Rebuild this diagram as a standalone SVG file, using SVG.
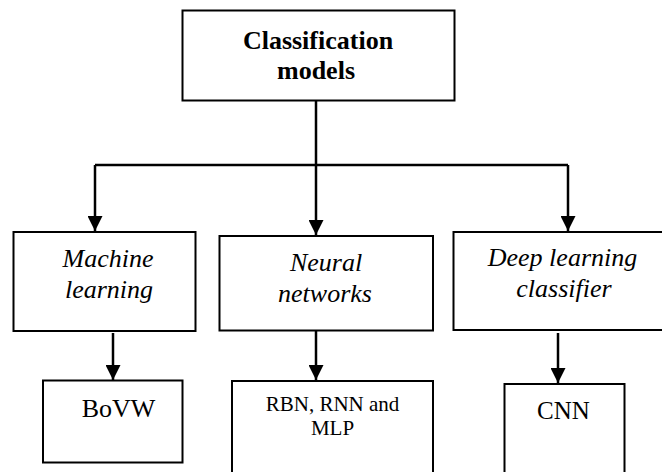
<svg xmlns="http://www.w3.org/2000/svg" width="662" height="472" viewBox="0 0 662 472">
<style>
.box{fill:#fff;stroke:#000;stroke-width:2}
.t{font-family:'Liberation Serif','Times New Roman',serif;fill:#000;text-anchor:middle}
.b{font-weight:bold;font-size:26px}
.i{font-style:italic;font-size:26px}
.r{font-size:26px}
.s{font-size:21px}
.c{stroke:#000;stroke-width:2.5;fill:none}
.a{stroke:#000;stroke-width:2.5;fill:none;marker-end:url(#ah)}
</style>
<defs>
<marker id="ah" markerUnits="userSpaceOnUse" markerWidth="15" markerHeight="15" refX="15" refY="7.5" orient="auto" viewBox="0 0 15 15">
<path d="M0,0 L15,7.5 L0,15 z" fill="#000"/>
</marker>
</defs>
<rect width="662" height="472" fill="#fff"/>
<g id="connectors">
<path class="c" d="M316,101 V165 M95,165 H568"/>
<path class="a" d="M95,165 V231"/>
<path class="a" d="M316,165 V235"/>
<path class="a" d="M568,165 V231"/>
<path class="a" d="M113,333 V380"/>
<path class="a" d="M316,330 V380"/>
<path class="a" d="M558,333 V383"/>
</g>
<g id="classification-models">
<rect class="box" x="182.5" y="10.5" width="272" height="90"/>
<text class="t b" x="318" y="49">Classification</text>
<text class="t b" x="316" y="79">models</text>
</g>
<g id="machine-learning">
<rect class="box" x="13.5" y="232" width="182" height="99"/>
<text class="t i" x="108" y="266.5">Machine</text>
<text class="t i" x="109" y="297.5">learning</text>
</g>
<g id="neural-networks">
<rect class="box" x="219.5" y="236" width="213.5" height="94.5"/>
<text class="t i" x="326" y="270.5">Neural</text>
<text class="t i" x="325" y="301.5">networks</text>
</g>
<g id="deep-learning-classifier">
<rect class="box" x="453.5" y="232" width="212" height="98"/>
<text class="t i" x="562.5" y="266">Deep learning</text>
<text class="t i" x="564" y="296.5">classifier</text>
</g>
<g id="bovw">
<rect class="box" x="43" y="380.5" width="139.5" height="82"/>
<text class="t r" x="118.5" y="416.5">BoVW</text>
</g>
<g id="rbn-rnn-mlp">
<rect class="box" x="232" y="381" width="201" height="95"/>
<text class="t s" x="332.5" y="410.5">RBN, RNN and</text>
<text class="t s" x="332.5" y="435">MLP</text>
</g>
<g id="cnn">
<rect class="box" x="504.5" y="384" width="120" height="92"/>
<text class="t" style="font-size:25px" x="563.5" y="419">CNN</text>
</g>
</svg>
